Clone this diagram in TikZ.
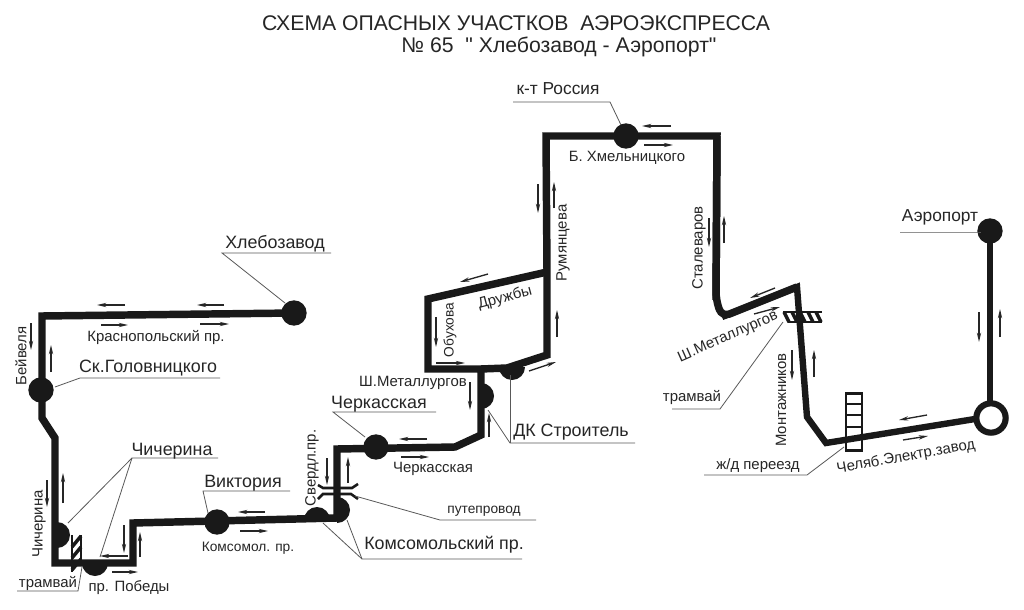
\documentclass[tikz,border=0pt]{standalone}
\usepackage{fontspec}
\setmainfont[Ligatures=TeXOff]{Liberation Sans}
\usetikzlibrary{arrows.meta}
\tikzset{
  road/.style={line width=5.6pt,line join=miter,black!90},
  roadthin/.style={line width=4.8pt,line join=miter,black!90},
  lead/.style={line width=0.6pt,black!65},
  dir/.style={line width=1pt,black!85,-{Stealth[length=7pt,width=3.2pt]}},
  stop/.style={circle,fill=black!90,inner sep=0pt,minimum size=19pt},
  half/.style={fill=black!90},
  big/.style={font=\fontsize{13.4pt}{15pt}\selectfont,inner sep=0pt,text=black!85},
  mid/.style={font=\fontsize{13pt}{15pt}\selectfont,inner sep=0pt,text=black!85},
  small/.style={font=\fontsize{11.2pt}{13pt}\selectfont,inner sep=0pt,text=black!85},
  tiny/.style={font=\fontsize{10.3pt}{12pt}\selectfont,inner sep=0pt,text=black!85},
  ttl/.style={font=\fontsize{15.9pt}{18pt}\selectfont,inner sep=0pt,text=black!85},
  rail/.style={line width=2pt,black!90},
  hatch/.style={line width=2.6pt,black!90},
  bridge/.style={line width=1.9pt,black!90}
}
\newcommand{\dirmark}[3]{\coordinate (#1a) at (#2);\coordinate (#1b) at (#3);\draw[dir] (#1a) -- (#1b);}
\newcommand{\halfstop}[3]{\coordinate (#1) at (#2);\fill[half] (#1) ++(#3:13) arc[start angle=#3,delta angle=180,radius=13] -- cycle;}
\newcommand{\leadline}[4]{\coordinate (#1a) at (#2);\coordinate (#1b) at (#3);\coordinate (#1c) at (#4);\draw[lead] (#1a) -- (#1b) -- (#1c);}
\begin{document}
\begin{tikzpicture}[x=0.75pt,y=-0.75pt]
\useasboundingbox[fill=white] (0,0) rectangle (1024,610);
% route points
\foreach \n/\p in {r1/{294,313},r2/{42,316},r3/{42,418},r4/{55,438},r5/{55,563},r6/{133,563},r7/{133,523},r8/{337,518},r9/{337,449},r10/{455,447},r11/{481,435},r12/{481,369},r13/{428,369},r14/{428,299},r15/{547,272},r16/{507,368},r17/{547,355},r18/{546,136},r19/{717,136},r20/{716,300},r21/{722,317},r22/{797,287},r23/{807,417},r24/{826,443},r25/{975,419},r26/{990,402},r27/{990,231}}{\coordinate (\n) at (\p);}
% stops
\halfstop{chich}{57,535}{-90}
\halfstop{pobed}{95,563}{0}
\halfstop{koms}{317,520}{180}
\halfstop{sverd}{337,510}{-90}
\halfstop{shmet}{481,396}{-90}
\halfstop{dk}{512,367}{0}
% roads
\draw[road] (r1) -- (r2) -- (r3) -- (r4) -- (r5) -- (r6) -- (r7) -- (r8) -- (r9) -- (r10) -- (r11) -- (r12) -- (r13) -- (r14) -- (r15);
\draw[road] (r12) -- (r16) -- (r17) -- (r15) -- (r18) -- (r19) -- (r20);
\draw[road,rounded corners=6pt] (r19) -- (r20) -- (r21) -- (r22);
\draw[roadthin] (r21) -- (r22) -- (r23) -- (r24) -- (r25);
\draw[roadthin] (r26) -- (r27);
% full stops
\node[stop] (hleb) at (r1) {};
\node[stop] (golov) at (41,390) {};
\node[stop] (vikt) at (217,522) {};
\node[stop] (cherk) at (376,447) {};
\node[stop] (ross) at (626,136) {};
\node[stop] (aero) at (r27) {};
\node[circle,draw=black!90,line width=4.6pt,fill=white,inner sep=0pt,minimum size=22pt] (ring) at (991,418) {};
% crossings
\coordinate (ta) at (72,535);\coordinate (tb) at (72,572);\coordinate (tc) at (81,535);\coordinate (td) at (81,560);
\draw[rail] (ta) -- (tb) (tc) -- (td);
\draw[hatch] (72,547) -- (81,536) (72,558) -- (81,547) (72,570) -- (81,559);
\coordinate (ua) at (783,312);\coordinate (ub) at (822,312);\coordinate (uc) at (788,322);\coordinate (ud) at (822,322);
\draw[rail] (ua) -- (ub) (uc) -- (ud);
\draw[hatch] (784,312) -- (789,322) (792,312) -- (797,322) (800,312) -- (805,322) (808,312) -- (813,322) (816,312) -- (821,322);
\node[draw=black!90,line width=2.2pt,fill=none,minimum width=12pt,minimum height=43pt,inner sep=0pt] (jd) at (854,422) {};
\draw[rail] (846,404) -- (862,404) (846,415) -- (862,415) (846,427) -- (862,427) (846,438) -- (862,438);
% overpass
\draw[bridge] (318,485) -- (323,488) -- (352,488) -- (358,484);
\draw[bridge] (318,499) -- (323,494) -- (351,494) -- (358,499);
% leaders
\leadline{la}{331,253}{222,253}{285,303}
\leadline{lb}{220,378}{80,378}{55,387}
\leadline{lc}{218,458}{132,458}{68,523}
\coordinate (ld) at (100,557);\draw[lead] (lcb) -- (ld);
\leadline{le}{290,491}{203,491}{208,513}
\leadline{lf}{17,591}{78,591}{82,567}
\leadline{lg}{436,412}{333,412}{365,437}
\leadline{lh}{522,559}{362,559}{323,523}
\coordinate (li) at (347,520);\draw[lead] (lhb) -- (li);
\leadline{lj}{536,520}{440,520}{355,496}
\leadline{lk}{635,443}{510,443}{488,410}
\coordinate (ll) at (510,375);\draw[lead] (lkb) -- (ll);
\leadline{lm}{513,102}{610,102}{621,125}
\leadline{ln}{672,409}{720,409}{783,322}
\leadline{lo}{704,475}{807,475}{844,447}
\leadline{lp}{900,232}{978,232}{981,232}
% direction arrows
\dirmark{a1}{125,305}{97,305}
\dirmark{a2}{224,305}{197,305}
\dirmark{a3}{101,325}{128,325}
\dirmark{a4}{200,324}{229,324}
\dirmark{a5}{31,323}{31,350}
\dirmark{a6}{51,372}{51,345}
\dirmark{a7}{47,480}{47,507}
\dirmark{a8}{63,503}{63,473}
\dirmark{a9}{128,556}{100,556}
\dirmark{a10}{112,572}{138,572}
\dirmark{a11}{124,525}{124,553}
\dirmark{a12}{140,557}{140,532}
\dirmark{a13}{265,512}{238,512}
\dirmark{a14}{240,531}{268,531}
\dirmark{a15}{327,458}{327,485}
\dirmark{a16}{348,483}{348,457}
\dirmark{a17}{427,439}{399,439}
\dirmark{a18}{401,457}{429,457}
\dirmark{a19}{470,382}{470,410}
\dirmark{a20}{489,437}{489,413}
\dirmark{a21}{436,317}{436,347}
\dirmark{a22}{436,363}{465,363}
\dirmark{a23}{488,274}{460,282}
\dirmark{a24}{529,371}{556,362}
\dirmark{a25}{557,337}{557,310}
\dirmark{a26}{538,184}{538,213}
\dirmark{a27}{554,208}{554,182}
\dirmark{a28}{671,126}{642,126}
\dirmark{a29}{644,145}{673,145}
\dirmark{a30}{709,218}{709,247}
\dirmark{a31}{724,243}{724,216}
\dirmark{a32}{775,288}{750,298}
\dirmark{a33}{754,314}{780,307}
\dirmark{a34}{792,350}{792,380}
\dirmark{a35}{814,377}{814,350}
\dirmark{a36}{927,415}{899,420}
\dirmark{a37}{903,440}{928,436}
\dirmark{a38}{979,312}{979,342}
\dirmark{a39}{1000,337}{1000,309}
% text
\node[ttl] (t1) at (516,23) {СХЕМА ОПАСНЫХ УЧАСТКОВ\ \ АЭРОЭКСПРЕССА};
\node[ttl] (t2) at (559,47) {№ 65\ \ " Хлебозавод - Аэропорт"};
\node[big] (n1) at (275,244) {Хлебозавод};
\node[small] (n2) at (156,338) {Краснопольский пр.};
\node[small,rotate=90] (n3) at (21,356) {Бейвеля};
\node[big] (n4) at (148,368) {Ск.Головницкого};
\node[big] (n5) at (172,451) {Чичерина};
\node[small,rotate=90] (n6) at (39,524) {Чичерина};
\node[small] (n7) at (48,584) {трамвай};
\node[small] (n8) at (129,588) {пр. Победы};
\node[big] (n9) at (243,483) {Виктория};
\node[tiny] (n10) at (248,548) {Комсомол. пр.};
\node[small,rotate=90] (n11) at (312,468) {Свердл.пр.};
\node[big] (n12) at (379,404) {Черкасская};
\node[small] (n13) at (433,469) {Черкасская};
\node[small] (n14) at (413,383) {Ш.Металлургов};
\node[tiny] (n15) at (484,511) {путепровод};
\node[big] (n16) at (444,545) {Комсомольский пр.};
\node[big] (n17) at (571,432) {ДК Строитель};
\node[tiny,rotate=90] (n18) at (450,330) {Обухова};
\node[small,rotate=15] (n19) at (505,298) {Дружбы};
\node[small,rotate=90] (n20) at (563,243) {Румянцева};
\node[small] (n21) at (627,158) {Б. Хмельницкого};
\node[mid] (n22) at (558,89) {к-т Россия};
\node[small,rotate=90] (n23) at (699,248) {Сталеваров};
\node[small,rotate=24] (n24) at (728,337) {Ш.Металлургов};
\node[small] (n25) at (692,398) {трамвай};
\node[small,rotate=90] (n26) at (781,400) {Монтажников};
\node[small] (n27) at (758,466) {ж/д переезд};
\node[small,rotate=10] (n28) at (906,457) {Челяб.Электр.завод};
\node[mid] (n29) at (940,217) {Аэропорт};
\end{tikzpicture}
\end{document}
